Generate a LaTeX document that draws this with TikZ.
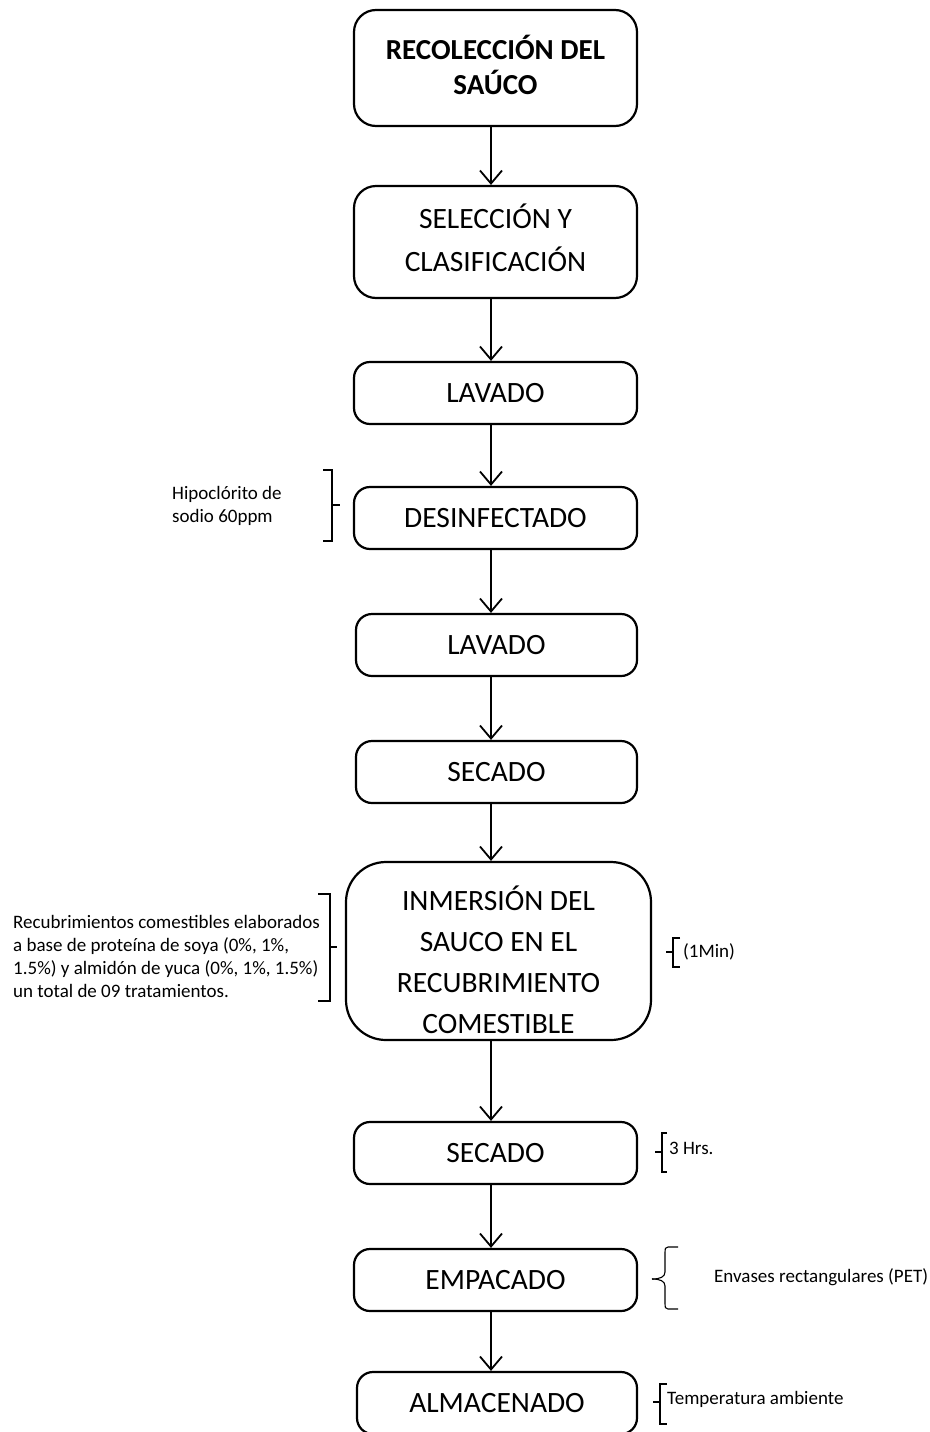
\documentclass[tikz,border=0pt]{standalone}
\usepackage{fontspec}
\setmainfont{Carlito}
\usetikzlibrary{arrows.meta}
\begin{document}
\begin{tikzpicture}[x=1pt,y=-1pt,
  box/.style={draw, line width=2.2pt, rounded corners=16pt, align=center, inner sep=0pt,
    font=\fontsize{29.5}{43}\selectfont},
  boxtext/.style={align=center, inner sep=0pt, font=\fontsize{29.5}{43}\selectfont},
  arr/.style={line width=1.8pt, -{Straight Barb[length=13pt,width=22pt,line width=1.8pt]}},
  brk/.style={line width=1.1pt},
  note/.style={font=\fontsize{19}{23}\selectfont, align=left, inner sep=0pt, anchor=west}]
\useasboundingbox (0,0) rectangle (929,1432);
\coordinate (ax) at (491,0);
% boxes
\node[box, rounded corners=22pt, minimum width=283pt, minimum height=116pt] (b1) at (495.5,68) {};
\node[boxtext, font=\bfseries\fontsize{29}{35}\selectfont] (t1) at ([yshift=3.5pt]b1.center) {RECOLECCIÓN DEL\\SAÚCO};
\node[box, rounded corners=22pt, minimum width=283pt, minimum height=112pt] (b2) at (495.5,242) {};
\node[boxtext] (t2) at ([yshift=4pt]b2.center) {SELECCIÓN Y\\CLASIFICACIÓN};
\node[box, minimum width=283pt, minimum height=62pt] (b3) at (495.5,393) {LAVADO};
\node[box, minimum width=283pt, minimum height=62pt] (b4) at (495.5,518) {DESINFECTADO};
\node[box, minimum width=281pt, minimum height=62pt] (b5) at (496.5,645) {LAVADO};
\node[box, minimum width=281pt, minimum height=62pt] (b6) at (496.5,772) {SECADO};
\node[box, rounded corners=40pt, minimum width=305pt, minimum height=178pt] (b7) at (498.5,951) {};
\node[boxtext, font=\fontsize{29.5}{41}\selectfont] (t7) at ([yshift=-9pt]b7.center) {INMERSIÓN DEL\\SAUCO EN EL\\RECUBRIMIENTO\\COMESTIBLE};
\node[box, minimum width=283pt, minimum height=62pt] (b8) at (495.5,1153) {SECADO};
\node[box, minimum width=283pt, minimum height=62pt] (b9) at (495.5,1280) {EMPACADO};
\node[box, minimum width=280pt, minimum height=62pt] (b10) at (497,1403) {ALMACENADO};
% arrows
\foreach \a/\b in {b1/b2,b2/b3,b3/b4,b4/b5,b5/b6,b6/b7,b7/b8,b8/b9,b9/b10}
  \draw[arr] (\a.south -| ax) -- (\b.north -| ax);
% notes
\node[note] (n1) at (172,506) {Hipoclórito de\\sodio 60ppm};
\draw[brk] (323,470) -- (332,470) -- (332,541) -- (323,541);
\draw[brk] (332,505) -- (340,505);
\node[note] (n2) at (13,956) {Recubrimientos comestibles elaborados\\a base de proteína de soya (0\%, 1\%,\\1.5\%) y almidón de yuca (0\%, 1\%, 1.5\%)\\un total de 09 tratamientos.};
\draw[brk] (318,894) -- (330,894) -- (330,1001) -- (318,1001);
\draw[brk] (330,947) -- (337,947);
\node[note] (n3) at (683,952) {(1Min)};
\draw[brk] (680,938) -- (673,938) -- (673,967) -- (680,967);
\draw[brk] (666,952) -- (673,952);
\node[note] (n4) at (669,1148) {3 Hrs.};
\draw[brk] (667,1133) -- (662,1133) -- (662,1172) -- (667,1172);
\draw[brk] (655,1152) -- (662,1152);
\node[note] (n5) at (714,1277) {Envases rectangulares (PET)};
\draw[brk] (678,1247) -- (668,1247) .. controls (665,1247) and (665,1249) .. (665,1252) -- (665,1272) .. controls (665,1277) and (660,1279) .. (652,1279);
\draw[brk] (652,1279) .. controls (660,1279) and (665,1281) .. (665,1286) -- (665,1304) .. controls (665,1307) and (665,1309) .. (668,1309) -- (678,1309);
\node[note] (n6) at (667,1399) {Temperatura ambiente};
\draw[brk] (667,1384) -- (660,1384) -- (660,1424) -- (667,1424);
\draw[brk] (653,1402) -- (660,1402);
\end{tikzpicture}
\end{document}
